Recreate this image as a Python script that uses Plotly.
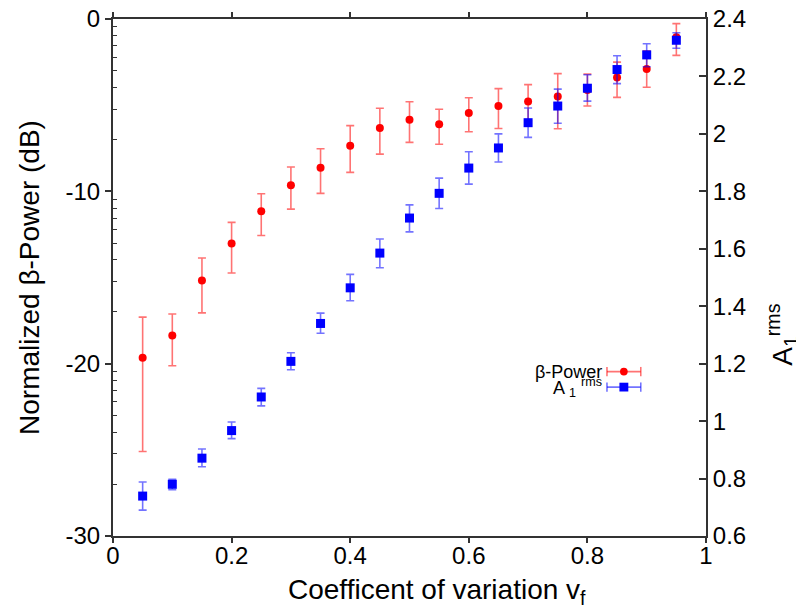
import plotly.graph_objects as go
import numpy as np

cv = [0.05, 0.10, 0.15, 0.20, 0.25, 0.30, 0.35, 0.40, 0.45, 0.50,
      0.55, 0.60, 0.65, 0.70, 0.75, 0.80, 0.85, 0.90, 0.95]

beta_power = [-19.66, -18.36, -15.17, -13.02, -11.16, -9.65, -8.63, -7.35, -6.33, -5.84,
              -6.11, -5.46, -5.05, -4.78, -4.49, -4.12, -3.39, -2.90, -1.06]
beta_hi = [-17.30, -17.12, -13.87, -11.80, -10.14, -8.59, -7.53, -6.19, -5.18, -4.80,
           -5.24, -4.57, -4.04, -3.81, -3.17, -3.19, -2.50, -1.84, -0.27]
beta_lo = [-25.10, -20.12, -17.05, -14.74, -12.56, -11.03, -10.12, -8.90, -7.84, -7.16,
           -7.27, -6.54, -6.35, -5.90, -6.37, -5.05, -4.55, -3.96, -2.11]

a1_rms = [0.739, 0.780, 0.871, 0.967, 1.084, 1.208, 1.340, 1.464, 1.585, 1.707,
          1.793, 1.881, 1.951, 2.039, 2.097, 2.159, 2.224, 2.275, 2.326]
a1_hi = [0.788, 0.797, 0.903, 0.997, 1.114, 1.238, 1.376, 1.511, 1.634, 1.753,
         1.846, 1.938, 2.000, 2.090, 2.156, 2.206, 2.272, 2.314, 2.352]
a1_lo = [0.690, 0.761, 0.841, 0.939, 1.053, 1.179, 1.306, 1.419, 1.534, 1.659,
         1.740, 1.825, 1.902, 1.988, 2.037, 2.114, 2.175, 2.234, 2.298]

x_ticks = [0, 0.2, 0.4, 0.6, 0.8, 1]
x_ticklabels = ["0", "0.2", "0.4", "0.6", "0.8", "1"]
y_ticks = [-30, -20, -10, 0]
y_ticklabels = ["-30", "-20", "-10", "0"]
y2_ticks = [0.6, 0.8, 1.0, 1.2, 1.4, 1.6, 1.8, 2.0, 2.2, 2.4]
y2_ticklabels = ["0.6", "0.8", "1", "1.2", "1.4", "1.6", "1.8", "2", "2.2", "2.4"]

RED = "#ff0000"
BLUE = "#0000ff"
RED_BAR = "rgba(255,0,0,0.55)"
BLUE_BAR = "rgba(0,0,255,0.55)"
FONT = "Liberation Sans, Arial, Helvetica, sans-serif"
TITLE_SIZE = 28

bp = np.array(beta_power)
a1 = np.array(a1_rms)

fig = go.Figure()
fig.add_trace(go.Scatter(
    x=cv, y=beta_power, mode="markers", name="β-Power",
    marker=dict(symbol="circle", size=8, color=RED),
    error_y=dict(type="data", symmetric=False,
                 array=(np.array(beta_hi) - bp).tolist(),
                 arrayminus=(bp - np.array(beta_lo)).tolist(),
                 color=RED_BAR, thickness=1.6, width=4),
    yaxis="y", showlegend=False))
fig.add_trace(go.Scatter(
    x=cv, y=a1_rms, mode="markers", name="A1 rms",
    marker=dict(symbol="square", size=9, color=BLUE),
    error_y=dict(type="data", symmetric=False,
                 array=(np.array(a1_hi) - a1).tolist(),
                 arrayminus=(a1 - np.array(a1_lo)).tolist(),
                 color=BLUE_BAR, thickness=1.6, width=4),
    yaxis="y2", showlegend=False))

minor_vals = [b + 10 * np.log10(k) for b in (-30, -20, -10) for k in range(2, 10)]

axis_common = dict(showgrid=False, zeroline=False, linecolor="#333333", linewidth=2,
                   automargin=False, ticklabeloverflow="allow",
                   tickcolor="#333333", tickfont=dict(family=FONT, size=24, color="black"))

# page body has an 8px default margin, so the figure is 8px smaller than the window
fig.update_layout(
    width=796, height=601,
    margin=dict(l=105, r=98, t=11, b=73),
    paper_bgcolor="white", plot_bgcolor="white",
    font=dict(family=FONT, color="black"),
    xaxis=dict(range=[0, 1], tickvals=x_ticks, ticktext=x_ticklabels,
               ticks="outside", ticklen=5, tickwidth=1.5, mirror="ticks", showline=True,
               ticklabelstandoff=-8,
               **axis_common),
    yaxis=dict(range=[-30, 0], tickvals=y_ticks, ticktext=y_ticklabels,
               ticks="outside", ticklen=6, tickwidth=1.5,
               showline=True, mirror=True,
               minor=dict(tickvals=minor_vals, ticks="inside", ticklen=4, tickcolor="#333333", tickwidth=1),
               **axis_common),
    yaxis2=dict(range=[0.6, 2.4], tickvals=y2_ticks, ticktext=y2_ticklabels, overlaying="y", side="right",
                ticks="inside", ticklen=7, tickwidth=1.5, showline=True,
                **axis_common),
)

# axis titles (placed as in the reference)
fig.add_annotation(xref="paper", yref="paper", x=0.546, y=-0.108, xanchor="center", yanchor="middle",
                   text="Coefficent of variation v<sub>f</sub>", showarrow=False,
                   font=dict(family=FONT, size=TITLE_SIZE, color="black"))
fig.add_annotation(xref="paper", yref="paper", x=-0.140, y=0.501, xanchor="center", yanchor="middle",
                   text="Normalized β-Power (dB)", textangle=-90, showarrow=False,
                   font=dict(family=FONT, size=TITLE_SIZE, color="black"))
fig.add_annotation(xref="paper", yref="paper", x=1.128, y=0.389, xanchor="center", yanchor="middle",
                   text="A<sub>1</sub><sup>rms</sup>", textangle=-90, showarrow=False,
                   font=dict(family=FONT, size=TITLE_SIZE, color="black"))

# manual legend (text left of key, gnuplot style); paper coords of plot area
legend_items = [("β-Power", RED, RED_BAR, "circle", 0.318),
                ("A <sub>1</sub> <sup>rms</sup>", BLUE, BLUE_BAR, "square", 0.288)]
for label, col, barcol, sym, yp in legend_items:
    fig.add_annotation(xref="paper", yref="paper", x=0.828, y=yp, xanchor="right", yanchor="middle",
                       text=label, showarrow=False, font=dict(family=FONT, size=18, color="black"))
    x0, x1 = 0.833, 0.890
    fig.add_shape(type="line", xref="paper", yref="paper", x0=x0, x1=x1, y0=yp, y1=yp,
                  line=dict(color=barcol, width=1.6))
    for xe in (x0, x1):
        fig.add_shape(type="line", xref="paper", yref="paper", x0=xe, x1=xe, y0=yp - 0.009, y1=yp + 0.009,
                      line=dict(color=barcol, width=1.6))
    xm = (x0 + x1) / 2
    if sym == "circle":
        fig.add_shape(type="circle", xref="paper", yref="paper", x0=xm - 0.0065, x1=xm + 0.0065,
                      y0=yp - 0.0075, y1=yp + 0.0075, fillcolor=col, line=dict(color=col, width=0))
    else:
        fig.add_shape(type="rect", xref="paper", yref="paper", x0=xm - 0.0075, x1=xm + 0.0075,
                      y0=yp - 0.0085, y1=yp + 0.0085, fillcolor=col, line=dict(color=col, width=0))

fig.write_html("out.html")
